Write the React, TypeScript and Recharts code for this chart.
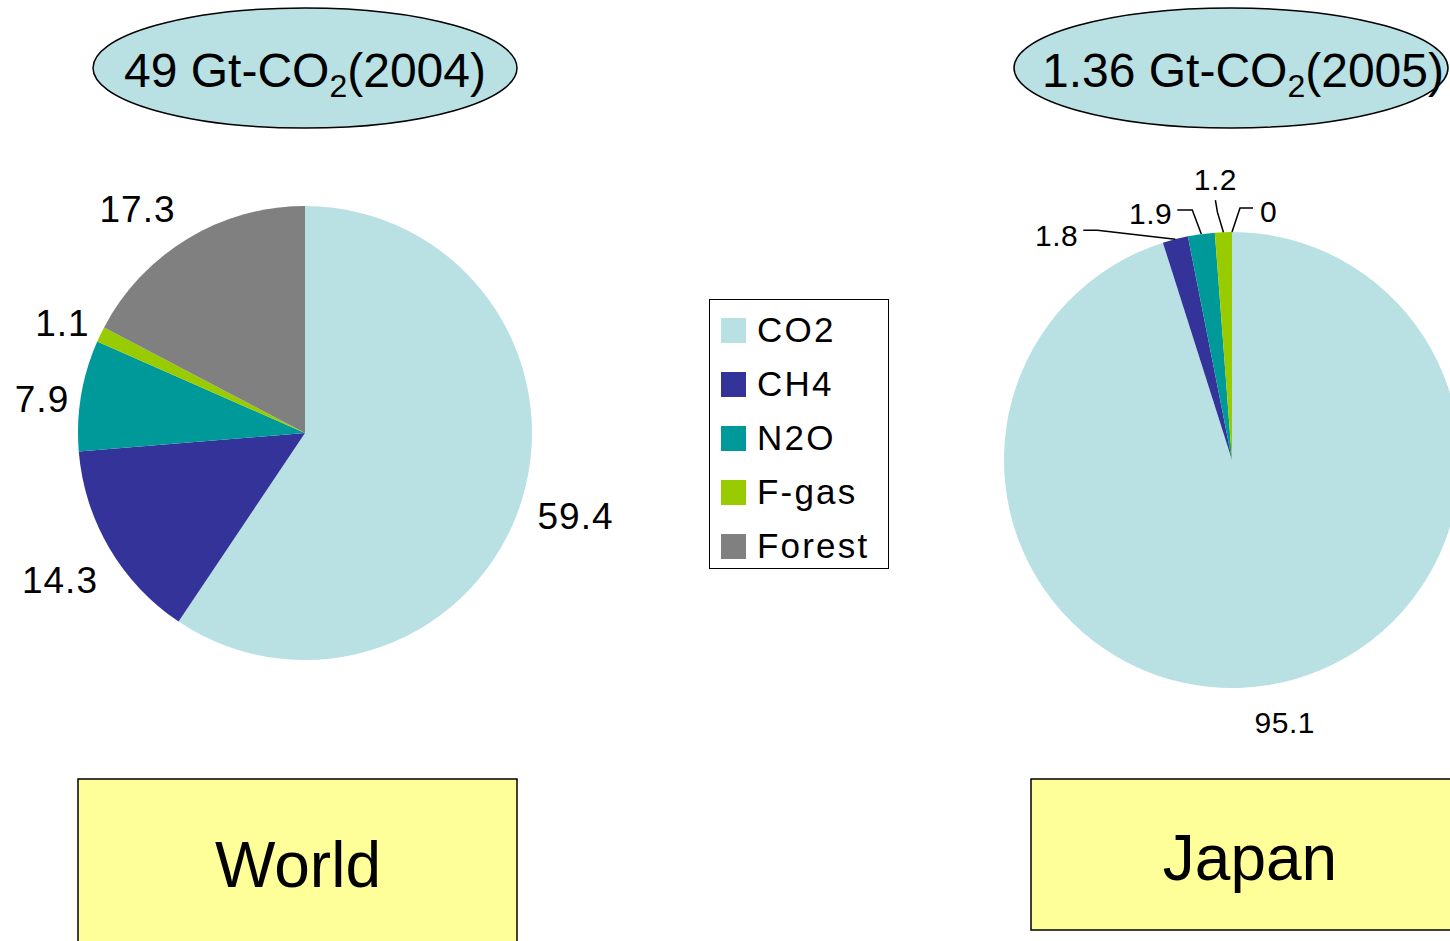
import React from 'react';
import { PieChart, Pie, Cell, Legend, Customized } from 'recharts';

const categories = ['CO2', 'CH4', 'N2O', 'F-gas', 'Forest'];
const worldValues = [59.4, 14.3, 7.9, 1.1, 17.3];
const japanValues = [95.1, 1.8, 1.9, 1.2, 0];
const colors = ['#B9E0E3', '#333399', '#009999', '#99CC00', '#808080'];
const worldTitle = { main: '49 Gt-CO', sub: '2', tail: '(2004)' };
const japanTitle = { main: '1.36 Gt-CO', sub: '2', tail: '(2005)' };
const worldName = 'World';
const japanName = 'Japan';

const worldData = categories.map((name, i) => ({ name, value: worldValues[i] }));
const japanData = categories.map((name, i) => ({ name, value: japanValues[i] }));

const FONT = '"Liberation Sans", Arial, sans-serif';
const RAD = Math.PI / 180;
const W = 1450;
const H = 941;

// small placement nudges for the World outside-end labels
const worldLabelNudge = [
  [2, 1],
  [-3, 5],
  [4, 11],
  [3, 8],
  [-26, 10],
];

// Label layout for Japan small slices: elbow offset from outer point, then horizontal run and anchor
const japanLabelLayout = [
  null,
  { ex: -78, ey: -9, hx: -14, hy: 0, anchor: 'end', tx: -5, ty: 16 },
  { ex: -9, ey: -24, hx: -15, hy: 0, anchor: 'end', tx: -5, ty: 14 },
  { ex: -6, ey: -20, hx: -2, hy: -12, anchor: 'middle', tx: 0, ty: -10 },
  { ex: 8, ey: -24, hx: 13, hy: 0, anchor: 'start', tx: 7, ty: 14 },
];

const renderWorldLabel = (props: any) => {
  const { cx, cy, midAngle, outerRadius, value, index } = props;
  const txt = String(value);
  const fs = 37;
  const w = txt.length * 18.3;
  const h = 32;
  const c = Math.cos(-midAngle * RAD);
  const s = Math.sin(-midAngle * RAD);
  const r = outerRadius + 14 + Math.abs(c) * w / 2 + Math.abs(s) * h / 2;
  const n = worldLabelNudge[index] || [0, 0];
  const x = cx + r * c + n[0];
  const y = cy + r * s + n[1];
  return (
    <text x={x} y={y + 13} textAnchor="middle" fontSize={fs} fontFamily={FONT} fill="#000" letterSpacing={1}>
      {txt}
    </text>
  );
};

const renderJapanLabel = (props: any) => {
  const { cx, cy, midAngle, outerRadius, value, index } = props;
  const txt = String(value);
  const fs = 30;
  const c = Math.cos(-midAngle * RAD);
  const s = Math.sin(-midAngle * RAD);
  const lay = japanLabelLayout[index];
  if (!lay) {
    const r = outerRadius + 38;
    return (
      <text x={cx + r * c + 12} y={cy + r * s + 10} textAnchor="middle" fontSize={fs} fontFamily={FONT} fill="#000" letterSpacing={0.5}>
        {txt}
      </text>
    );
  }
  const ox = cx + outerRadius * c;
  const oy = cy + outerRadius * s;
  const ex = ox + lay.ex;
  const ey = oy + lay.ey;
  const hx = ex + lay.hx;
  const hy = ey + lay.hy;
  return (
    <g>
      <polyline points={`${ox},${oy} ${ex},${ey} ${hx},${hy}`} fill="none" stroke="#000" strokeWidth={1.5} />
      <text x={hx + lay.tx} y={hy + lay.ty} textAnchor={lay.anchor as any} fontSize={fs} fontFamily={FONT} fill="#000" letterSpacing={0.5}>
        {txt}
      </text>
    </g>
  );
};

const Decorations = () => (
  <g>
    <ellipse cx={305} cy={68} rx={212} ry={60} fill="#B9E0E3" stroke="#000" strokeWidth={1.5} />
    <text x={305} y={87} textAnchor="middle" fontSize={48} fontFamily={FONT} fill="#000">
      {worldTitle.main}
      <tspan dy={10} fontSize={32}>{worldTitle.sub}</tspan>
      <tspan dy={-10}>{worldTitle.tail}</tspan>
    </text>
    <ellipse cx={1231} cy={68} rx={217} ry={60} fill="#B9E0E3" stroke="#000" strokeWidth={1.5} />
    <text x={1243} y={87} textAnchor="middle" fontSize={48} fontFamily={FONT} fill="#000">
      {japanTitle.main}
      <tspan dy={10} fontSize={32}>{japanTitle.sub}</tspan>
      <tspan dy={-10}>{japanTitle.tail}</tspan>
    </text>
    <rect x={78} y={779} width={439} height={180} fill="#FFFF99" stroke="#000" strokeWidth={1.5} />
    <text x={298} y={887} textAnchor="middle" fontSize={64} fontFamily={FONT} fill="#000">{worldName}</text>
    <rect x={1031} y={779} width={440} height={151} fill="#FFFF99" stroke="#000" strokeWidth={1.5} />
    <text x={1250} y={880} textAnchor="middle" fontSize={64} fontFamily={FONT} fill="#000">{japanName}</text>
  </g>
);

const LegendContent = () => (
  <div
    style={{
      width: 180,
      height: 270,
      border: '1.5px solid #000',
      background: '#fff',
      boxSizing: 'border-box',
      paddingTop: 3,
      paddingLeft: 11,
      fontFamily: FONT,
    }}
  >
    {categories.map((name, i) => (
      <div key={name} style={{ display: 'flex', alignItems: 'center', height: 54 }}>
        <div style={{ width: 25, height: 25, background: colors[i], marginRight: 11, flexShrink: 0 }} />
        <span style={{ fontSize: 35, letterSpacing: 2.2, lineHeight: '54px', color: '#000' }}>{name}</span>
      </div>
    ))}
  </div>
);

export default function App() {
  return (
    <div style={{ position: 'absolute', left: 0, top: 0, width: W, height: H, overflow: 'hidden', background: '#fff' }}>
      <PieChart width={W} height={H} margin={{ top: 0, right: 0, bottom: 0, left: 0 }}>
        <Customized component={Decorations} />
        <Pie
          data={worldData}
          dataKey="value"
          nameKey="name"
          cx={305}
          cy={433}
          outerRadius={227}
          startAngle={90}
          endAngle={-270}
          stroke="none"
          label={renderWorldLabel}
          labelLine={false}
          isAnimationActive={false}
        >
          {worldData.map((d, i) => (
            <Cell key={d.name} fill={colors[i]} />
          ))}
        </Pie>
        <Pie
          data={japanData}
          dataKey="value"
          nameKey="name"
          cx={1232}
          cy={460}
          outerRadius={228}
          startAngle={90}
          endAngle={-270}
          stroke="none"
          label={renderJapanLabel}
          labelLine={false}
          isAnimationActive={false}
        >
          {japanData.map((d, i) => (
            <Cell key={d.name} fill={colors[i]} />
          ))}
        </Pie>
        <Legend
          content={LegendContent}
          wrapperStyle={{ position: 'absolute', left: 709, top: 299, width: 180, height: 270 }}
        />
      </PieChart>
    </div>
  );
}
